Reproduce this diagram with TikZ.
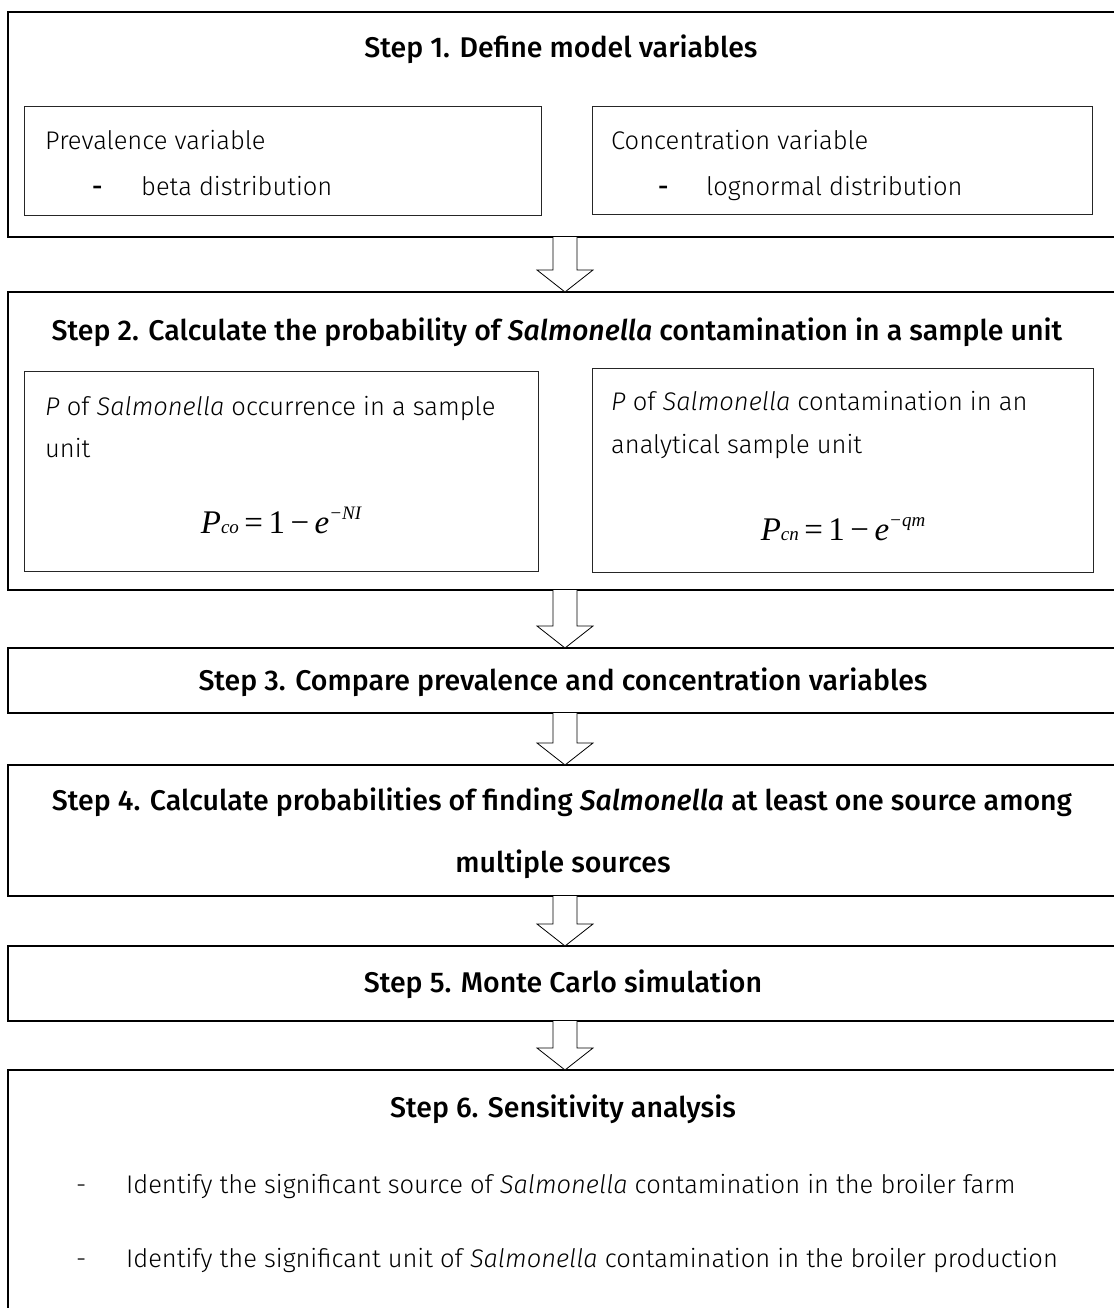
\documentclass[tikz,border=0pt]{standalone}
\usepackage{fontspec}
\setmainfont{Fira Sans Light}[BoldFont={Fira Sans Medium},ItalicFont={Fira Sans Light Italic},BoldItalicFont={Fira Sans Medium Italic}]
\newfontfamily\tnr{Liberation Serif}
\usetikzlibrary{calc}
\newcommand\blockarrow[2]{%
  \draw[arrowline] ($(#1.south)+(-12,0)$) -- ($(#2.north)+(-12,-22)$) -- ($(#2.north)+(-28,-22)$) -- (#2.north)
    -- ($(#2.north)+(28,-22)$) -- ($(#2.north)+(12,-22)$) -- ($(#1.south)+(12,0)$);}
\newcommand\fsub[1]{{\fontsize{19}{19}\selectfont\itshape #1}}
\begin{document}
\begin{tikzpicture}[x=1pt,y=-1pt,
  outer/.style={draw=black, line width=1.6pt, minimum width=1114pt, anchor=north west, inner sep=0pt, outer sep=0pt},
  innerbox/.style={draw=black!85, line width=1pt, anchor=north west, inner sep=0pt, outer sep=0pt},
  title/.style={font=\fontsize{28.5}{32}\selectfont\bfseries, anchor=base, inner sep=0pt},
  body/.style={font=\fontsize{25.5}{30}\selectfont, anchor=base west, inner sep=0pt},
  dashb/.style={font=\fontsize{25.5}{30}\selectfont\bfseries, anchor=base west, inner sep=0pt},
  formula/.style={font=\tnr\fontsize{33}{36}\selectfont, anchor=base, inner sep=0pt},
  arrowline/.style={draw=black, line width=0.8pt, fill=white, line join=miter}]
\useasboundingbox (0,0) rectangle (1113,1308);
\fill[white] (0,0) rectangle (1113,1308);

% outer step boxes
\node[outer, minimum height=225pt] (s1) at (8,12) {};
\node[outer, minimum height=298pt] (s2) at (8,292) {};
\node[outer, minimum height=65pt] (s3) at (8,648) {};
\node[outer, minimum height=131pt] (s4) at (8,765) {};
\node[outer, minimum height=75pt] (s5) at (8,946) {};
\node[outer, minimum height=260pt] (s6) at (8,1070) {};

% inner boxes
\node[innerbox, minimum width=517pt, minimum height=108pt] (a1) at (24,107) {};
\node[innerbox, minimum width=500pt, minimum height=107pt] (b1) at (592,107) {};
\node[innerbox, minimum width=514pt, minimum height=200pt] (a2) at (24,371) {};
\node[innerbox, minimum width=501pt, minimum height=204pt] (b2) at (592,368) {};

% step 1
\node[title] (t1) at (561,58) {Step 1. Define model variables};
\node[body] (a1l1) at (45,150) {Prevalence variable};
\node[dashb] (a1d) at (92,195) {-};
\node[body] (a1l2) at (141,195) {beta distribution};
\node[body] (b1l1) at (611,150) {Concentration variable};
\node[dashb] (b1d) at (658,195) {-};
\node[body] (b1l2) at (706,195) {lognormal distribution};

% step 2
\node[title] (t2) at (557,340) {Step 2. Calculate the probability of \textit{Salmonella} contamination in a sample unit};
\node[body] (a2l1) at (45,415) {\textit{P} of \textit{Salmonella} occurrence in a sample};
\node[body] (a2l2) at (45,457) {unit};
\node[formula] (a2f) at (281,533) {\textit{P}\fsub{co}\,=\,1\,−\,\textit{e}\raisebox{14pt}{\fsub{−NI}}};
\node[body] (b2l1) at (611,410) {\textit{P} of \textit{Salmonella} contamination in an};
\node[body] (b2l2) at (611,453) {analytical sample unit};
\node[formula] (b2f) at (843,540) {\textit{P}\fsub{cn}\,=\,1\,−\,\textit{e}\raisebox{14pt}{\fsub{−qm}}};

% steps 3-5
\node[title] (t3) at (563,690) {Step 3. Compare prevalence and concentration variables};
\node[title] (t4a) at (562,810) {Step 4. Calculate probabilities of finding \textit{Salmonella} at least one source among};
\node[title] (t4b) at (563,872) {multiple sources};
\node[title] (t5) at (563,992) {Step 5. Monte Carlo simulation};

% step 6
\node[title] (t6) at (563,1117) {Step 6. Sensitivity analysis};
\node[body] (d1) at (76,1193) {-};
\node[body] (l1) at (126,1193) {Identify the significant source of \textit{Salmonella} contamination in the broiler farm};
\node[body] (d2) at (76,1267) {-};
\node[body] (l2) at (126,1267) {Identify the significant unit of \textit{Salmonella} contamination in the broiler production};

% block arrows
\blockarrow{s1}{s2}
\blockarrow{s2}{s3}
\blockarrow{s3}{s4}
\blockarrow{s4}{s5}
\blockarrow{s5}{s6}
\end{tikzpicture}
\end{document}
